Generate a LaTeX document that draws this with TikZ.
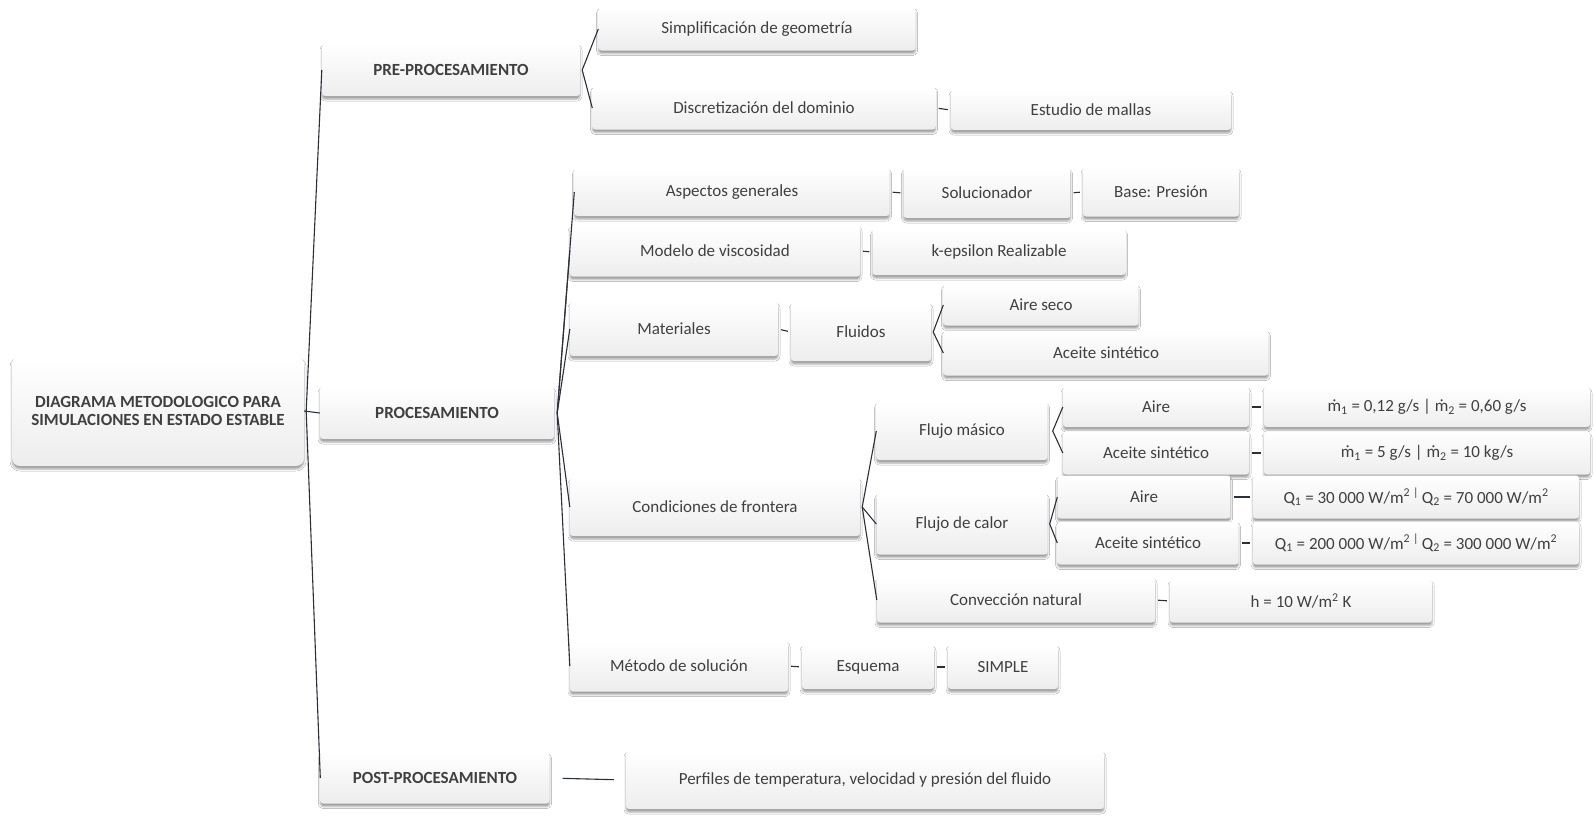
\documentclass[tikz,border=0pt]{standalone}
\usepackage{fontspec}
\setmainfont{Carlito}
\usetikzlibrary{shadows.blur}
\definecolor{txt}{HTML}{404040}
\definecolor{ln}{HTML}{2A2F3A}
\tikzset{
  bx/.style={rectangle, rounded corners=3pt, inner sep=0pt, draw=none,
    top color=white, bottom color=black!7, text=txt,
    blur shadow={shadow xshift=0pt, shadow yshift=-3pt, shadow blur radius=2pt, shadow opacity=38},
    font=\fontsize{17}{19}\selectfont},
  hd/.style={bx, font=\fontsize{17}{19}\selectfont\bfseries},
  link/.style={draw=ln, line width=1.1pt}
}
\begin{document}
\begin{tikzpicture}[x=1pt, y=-1pt]
\useasboundingbox (0,0) rectangle (1595,817);
\fill[white] (0,0) rectangle (1595,817);

% root and first level
\node[hd, rounded corners=8pt, minimum width=292, minimum height=110, align=center] (root) at (158,411)
  {DIAGRAMA METODOLOGICO PARA\\[-1.5pt]SIMULACIONES EN ESTADO ESTABLE};
\node[hd, minimum width=258, minimum height=52] (pre) at (451,70) {PRE-PROCESAMIENTO};
\node[hd, minimum width=234, minimum height=52] (proc) at (437,413) {PROCESAMIENTO};
\node[hd, minimum width=229, minimum height=51] (post) at (435,778) {POST-PROCESAMIENTO};

% pre-processing
\node[bx, minimum width=317, minimum height=43] (simp) at (757,29) {Simplificación de geometría};
\node[bx, minimum width=343, minimum height=43] (disc) at (764,108) {Discretización del dominio};
\node[bx, minimum width=280, minimum height=40] (mall) at (1091,110) {Estudio de mallas};

% processing
\node[bx, minimum width=315, minimum height=48] (asp) at (732,192) {Aspectos generales};
\node[bx, minimum width=167, minimum height=50] (sol) at (987,193) {Solucionador};
\node[bx, minimum width=156, minimum height=49] (base) at (1161,192) {Base: Presión};

\node[bx, minimum width=290, minimum height=51] (visc) at (715,251) {Modelo de viscosidad};
\node[bx, minimum width=253, minimum height=46] (keps) at (999,252) {k-epsilon Realizable};

\node[bx, minimum width=208, minimum height=54] (mat) at (674,329) {Materiales};
\node[bx, minimum width=140, minimum height=58] (flu) at (861,332) {Fluidos};
\node[bx, minimum width=195, minimum height=41] (aire) at (1041,305) {Aire seco};
\node[bx, minimum width=325, minimum height=45] (acei) at (1106,353) {Aceite sintético};

\node[bx, minimum width=290, minimum height=58] (cond) at (715,507) {Condiciones de frontera};
\node[bx, minimum width=171, minimum height=58] (fm) at (962,431) {Flujo másico};
\node[bx, minimum width=186, minimum height=40] (fma) at (1156,407) {Aire};
\node[bx, minimum width=186, minimum height=43] (fmo) at (1156,453) {Aceite sintético};
\node[bx, minimum width=326, minimum height=40] (fmav) at (1427,407)
  {ṁ\textsubscript{1} = 0,12 g/s | ṁ\textsubscript{2} = 0,60 g/s};
\node[bx, minimum width=326, minimum height=43] (fmov) at (1427,453)
  {ṁ\textsubscript{1} = 5 g/s | ṁ\textsubscript{2} = 10 kg/s};

\node[bx, minimum width=171, minimum height=61] (fc) at (962,524) {Flujo de calor};
\node[bx, minimum width=173, minimum height=43] (fca) at (1144,497) {Aire};
\node[bx, minimum width=181, minimum height=43] (fco) at (1148,543) {Aceite sintético};
\node[bx, minimum width=326, minimum height=43] (fcav) at (1416,497)
  {Q\textsubscript{1} = 30 000 W/m\textsuperscript{2}\,\textsuperscript{|}\,Q\textsubscript{2} = 70 000 W/m\textsuperscript{2}};
\node[bx, minimum width=326, minimum height=43] (fcov) at (1416,543)
  {Q\textsubscript{1} = 200 000 W/m\textsuperscript{2}\,\textsuperscript{|}\,Q\textsubscript{2} = 300 000 W/m\textsuperscript{2}};

\node[bx, minimum width=278, minimum height=45] (conv) at (1016,600) {Convección natural};
\node[bx, minimum width=262, minimum height=43] (hval) at (1301,601) {h = 10 W/m\textsuperscript{2} K};

\node[bx, minimum width=218, minimum height=51] (met) at (679,666) {Método de solución};
\node[bx, minimum width=132, minimum height=44] (esq) at (868,667) {Esquema};
\node[bx, minimum width=110, minimum height=44] (simple) at (1003,667) {SIMPLE};

% post-processing
\node[bx, minimum width=478, minimum height=58] (perf) at (865,780)
  {Perfiles de temperatura, velocidad y presión del fluido};

% bracket connectors
\coordinate (v0) at ([xshift=2pt]root.east);
\draw[link] (root.east) -- (proc.west);
\draw[link] (pre.west) -- (v0) -- (post.west);

\coordinate (v1) at ([xshift=2pt]pre.east);
\draw[link] (simp.west) -- (v1) -- (disc.west);

\coordinate (v2) at ([xshift=3pt]proc.east);
\foreach \c in {asp,visc,mat,cond,met} \draw[link] (v2) -- (\c.west);

\coordinate (v3) at ([xshift=2pt]flu.east);
\draw[link] (aire.west) -- (v3) -- (acei.west);

\coordinate (v4) at ([xshift=2pt]cond.east);
\foreach \c in {fm,fc,conv} \draw[link] (v4) -- (\c.west);

\coordinate (v5) at ([xshift=5pt]fm.east);
\draw[link] (fma.west) -- (v5) -- (fmo.west);

\coordinate (v6) at ([xshift=2pt]fc.east);
\draw[link] (fca.west) -- (v6) -- (fco.west);

% straight links between neighbours
\foreach \a/\b in {disc/mall, asp/sol, sol/base, visc/keps, mat/flu, fma/fmav, fmo/fmov,
                   fca/fcav, fco/fcov, conv/hval, met/esq, esq/simple}
  \draw[link, shorten <=3pt, shorten >=3pt] (\a.east) -- (\b.west);
\draw[link, shorten <=13pt, shorten >=12pt] (post.east) -- (perf.west);
\end{tikzpicture}
\end{document}
